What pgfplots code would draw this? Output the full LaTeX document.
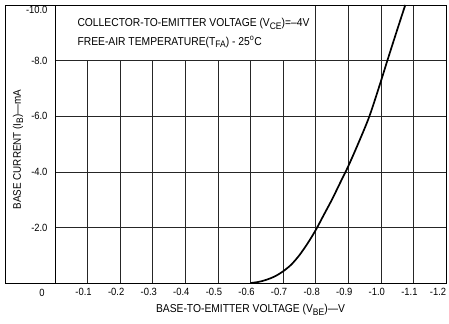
\documentclass[border=0pt]{standalone}
\usepackage{pgfplots}
\pgfplotsset{compat=1.18}
\usepackage{fontspec}
\setmainfont{Liberation Sans}[FakeStretch=0.9]
\newcommand\sub[1]{\raisebox{-0.4ex}{\fontsize{9.5}{9.5}\selectfont #1}}
\begin{document}
\begin{tikzpicture}
\begin{axis}[
  scale only axis, width=391bp, height=278bp,
  x dir=reverse, y dir=reverse,
  xmin=-1.2, xmax=0, ymin=-10, ymax=0,
  xtick={-0.1,-0.2,-0.3,-0.4,-0.5,-0.6,-0.7,-0.8,-0.9,-1.0,-1.1,-1.2},
  xticklabels={-0.1,-0.2,-0.3,-0.4,-0.5,-0.6,-0.7,-0.8,-0.9,-1.0,-1.1,{-1.2\kern8bp}},
  ytick={-8,-6,-4,-2},
  yticklabels={-8.0,-6.0,-4.0,-2.0},
  extra y ticks={-10},
  extra y tick labels={-10.0},
  extra y tick style={yticklabel style={yshift=-5bp}},
  grid=major,
  major grid style={black!85, line width=0.55pt},
  major tick length=0pt,
  axis line style={line width=0.9pt},
  tick label style={font=\fontsize{10.5}{11}\selectfont},
  xticklabel style={xshift=-4bp, yshift=-2bp},
  yticklabel style={xshift=-4bp},
  clip=false,
]
\fill[white] (axis cs:0,-8) rectangle (axis cs:-0.8,-10);
\draw[black!85, line width=0.55pt] (axis cs:0,-8) -- (axis cs:-0.8,-8) -- (axis cs:-0.8,-10);
\draw[line width=0.9pt] ([xshift=-50bp]axis cs:0,-10) -- (axis cs:-1.2,-10) -- (axis cs:-1.2,0) -- ([xshift=-50bp]axis cs:0,0) -- cycle;
\draw[line width=0.9pt] (axis cs:0,-10) -- (axis cs:0,0);
\addplot[black, line width=1.7pt, smooth, tension=0.5] coordinates {
 (-0.600,0) (-0.625,-0.04) (-0.65,-0.12) (-0.675,-0.24) (-0.70,-0.42)
 (-0.725,-0.66) (-0.75,-1.0) (-0.775,-1.42) (-0.80,-1.9) (-0.825,-2.45)
 (-0.85,-3.0) (-0.875,-3.6) (-0.90,-4.2) (-0.93,-5.0) (-0.965,-6.0)
 (-1.00,-7.25) (-1.02,-8.0) (-1.05,-9.1) (-1.075,-10.0)
};
\node[font=\fontsize{10.5}{11}\selectfont] at ([xshift=-13bp,yshift=-10bp]axis cs:0,0) {0};
\node[rotate=90, font=\fontsize{11}{12}\selectfont] at ([xshift=-37bp]axis cs:0,-4.8) {BASE CURRENT (I\sub{B})—mA};
\node[font=\fontsize{11.5}{12}\selectfont] at ([yshift=-27bp]axis cs:-0.6,0) {BASE-TO-EMITTER VOLTAGE (V\sub{BE})—V};
\node[anchor=west, font=\fontsize{11.5}{12}\selectfont] at ([xshift=19bp,yshift=-19bp]axis cs:0,-10) {COLLECTOR-TO-EMITTER VOLTAGE (V\sub{CE})=–4V};
\node[anchor=west, font=\fontsize{11.5}{12}\selectfont] at ([xshift=19bp,yshift=-37bp]axis cs:0,-10) {FREE-AIR TEMPERATURE(T\sub{FA}) - 25\textsuperscript{o}C};
\end{axis}
\pgfresetboundingbox
\path ([xshift=-55bp,yshift=-41bp]current axis.south west) rectangle ([xshift=3bp,yshift=5bp]current axis.north east);
\end{tikzpicture}
\end{document}
